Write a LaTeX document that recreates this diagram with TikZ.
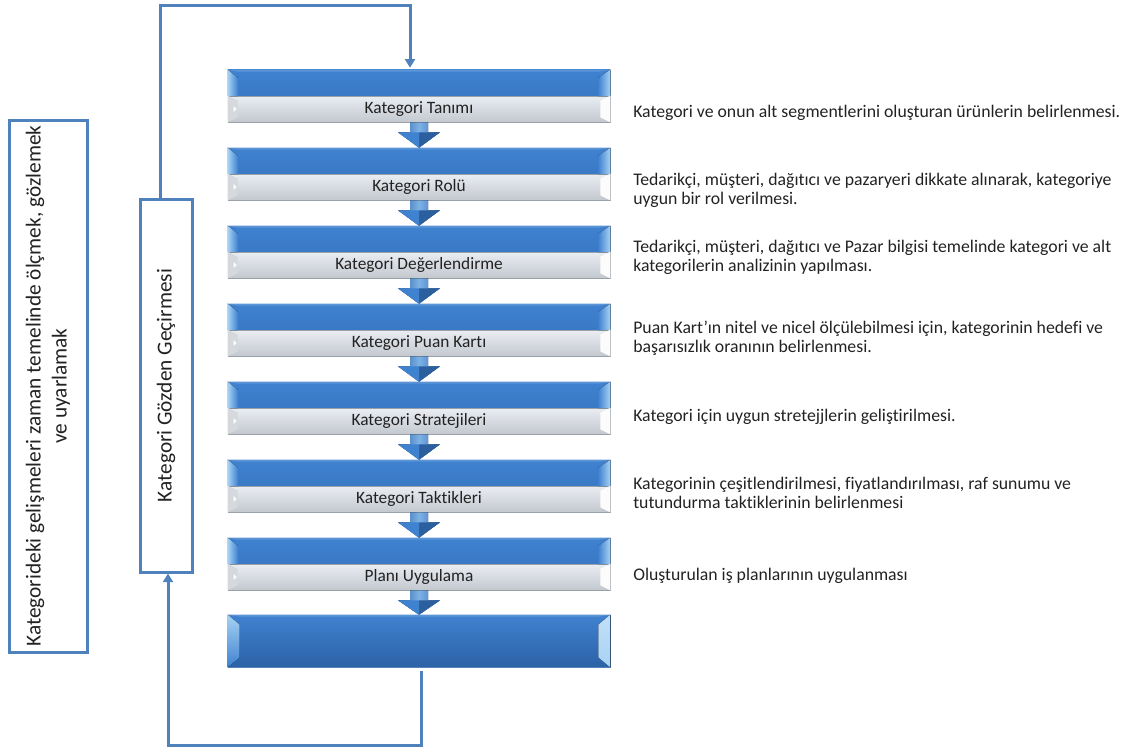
\documentclass[tikz,border=0pt]{standalone}
\usepackage{fontspec}
\setmainfont{Carlito}[Ligatures=NoCommon]
\usetikzlibrary{calc,arrows.meta,shadows}
\definecolor{frameblue}{HTML}{4F81BD}
\definecolor{boxtop}{HTML}{3F82D0}
\definecolor{boxbot}{HTML}{3370BA}
\definecolor{boxdark}{HTML}{2C62A6}
\definecolor{bevlight}{HTML}{A8D2F4}
\definecolor{bandtop}{HTML}{EAEEF3}
\definecolor{bandbot}{HTML}{C3C8CF}
\definecolor{bandline}{HTML}{9AA1A9}
\definecolor{txt}{HTML}{222222}

\tikzset{
  bluebox/.style={draw=boxdark!80, line width=0.4pt, top color=boxtop, bottom color=boxbot,
    minimum width=286.5pt, minimum height=39pt, inner sep=0pt,
    drop shadow={shadow xshift=0.8pt, shadow yshift=-0.8pt, opacity=0.35}},
  lastbox/.style={bluebox, top color=boxtop, bottom color=boxdark},
  band/.style={draw=bandline, line width=0.4pt, top color=bandtop, bottom color=bandbot,
    minimum width=286.5pt, minimum height=19.5pt, inner sep=0pt,
    font=\fontsize{13}{15}\selectfont, text=txt},
  desc/.style={anchor=west, align=left, inner sep=0pt, text=txt,
    font=\fontsize{13.3}{14.4}\selectfont},
  frame/.style={draw=frameblue, line width=2.25pt, fill=white, inner sep=0pt},
  vtext/.style={rotate=90, align=center, text=txt, font=\fontsize{16}{19.5}\selectfont},
  fb/.style={draw=frameblue, line width=2.25pt},
  fbtip/.style={-{Triangle[width=7.5pt,length=6.5pt]}},
  flowshade/.style={left color=boxdark, right color=boxbot, middle color=bevlight!60!boxtop},
}

% bevelled edges of a step box (upper blue half and lower grey band)
\newcommand\stepbevels[2]{%
  \fill[left color=bevlight, right color=boxtop] (#1.north west) -- ($(#1.north west)+(10,8)$)
     -- ($(#1.west)+(10,0)$) -- (#1.west) -- cycle;
  \fill[left color=boxtop, right color=bevlight] (#1.north east) -- ($(#1.north east)+(-12,8)$)
     -- ($(#1.east)+(-12,0)$) -- (#1.east) -- cycle;
  \fill[boxtop!85!white] (#1.north west) -- (#1.north east) -- ($(#1.north east)+(-12,2)$)
     -- ($(#1.north west)+(10,2)$) -- cycle;
  \fill[bandbot!70!white] (#2.north west) -- ($(#2.north west)+(10,5)$)
     -- ($(#2.south west)+(10,-5)$) -- (#2.south west) -- cycle;
  \fill[white] ($(#2.west)+(6,-3)$) -- ($(#2.west)+(9,0)$) -- ($(#2.west)+(6,3)$) -- cycle;
  \fill[white!85!bandtop] (#2.north east) -- ($(#2.north east)+(-10,5)$)
     -- ($(#2.south east)+(-10,-5)$) -- (#2.south east) -- cycle;
}

% block arrow from the bottom of one step to the top of the next
\newcommand\flowarrow[2]{%
  \fill[flowshade] ($(#1.south)+(-9,0)$) -- ($(#1.south)+(9,0)$) -- ($(#1.south)+(9,10)$)
     -- ($(#1.south)+(21,10)$) -- (#2.north) -- ($(#1.south)+(-21,10)$)
     -- ($(#1.south)+(-9,10)$) -- cycle;
  \fill[boxbot!85!black] ($(#1.south)+(0,10)$) -- ($(#1.south)+(21,10)$) -- (#2.north) -- cycle;
  \fill[boxtop] ($(#1.south)+(0,10)$) -- ($(#1.south)+(-21,10)$) -- (#2.north) -- cycle;
}

\begin{document}
\begin{tikzpicture}[x=0.75pt,y=-0.75pt]
\useasboundingbox (0,0) rectangle (1131,749);

% step boxes
\node[bluebox] (s1) at (419,96) {};
\node[band] (l1) at (419,109) {Kategori Tanımı};
\stepbevels{s1}{l1}
\node[bluebox] (s2) at (419,174) {};
\node[band] (l2) at (419,187) {Kategori Rolü};
\stepbevels{s2}{l2}
\node[bluebox] (s3) at (419,252) {};
\node[band] (l3) at (419,265) {Kategori Değerlendirme};
\stepbevels{s3}{l3}
\node[bluebox] (s4) at (419,330) {};
\node[band] (l4) at (419,343) {Kategori Puan Kartı};
\stepbevels{s4}{l4}
\node[bluebox] (s5) at (419,408) {};
\node[band] (l5) at (419,421) {Kategori Stratejileri};
\stepbevels{s5}{l5}
\node[bluebox] (s6) at (419,486) {};
\node[band] (l6) at (419,499) {Kategori Taktikleri};
\stepbevels{s6}{l6}
\node[bluebox] (s7) at (419,564) {};
\node[band] (l7) at (419,577) {Planı Uygulama};
\stepbevels{s7}{l7}

% final box
\node[lastbox] (s8) at (419,641) {};
\fill[top color=bevlight, bottom color=boxtop] (s8.north west) -- ($(s8.north west)+(12,10)$)
   -- ($(s8.south west)+(12,-10)$) -- (s8.south west) -- cycle;
\fill[top color=white!30!bevlight, bottom color=bevlight] (s8.north east) -- ($(s8.north east)+(-12,10)$)
   -- ($(s8.south east)+(-12,-10)$) -- (s8.south east) -- cycle;
\fill[boxtop!85!white] (s8.north west) -- (s8.north east) -- ($(s8.north east)+(-12,2)$)
   -- ($(s8.north west)+(12,2)$) -- cycle;

% arrows between steps
\flowarrow{s1}{s2}
\flowarrow{s2}{s3}
\flowarrow{s3}{s4}
\flowarrow{s4}{s5}
\flowarrow{s5}{s6}
\flowarrow{s6}{s7}
\flowarrow{s7}{s8}

% review and monitoring frames
\node[frame, minimum width=39pt, minimum height=279.75pt] (rev) at (166,385.5) {};
\node[vtext] (revt) at (rev.center) {Kategori Gözden Geçirmesi};
\node[frame, minimum width=58.5pt, minimum height=399pt] (obs) at (48,386) {};
\node[vtext] (obst) at (obs.center) {Kategorideki gelişmeleri zaman temelinde ölçmek, gözlemek\\ve uyarlamak};

% feedback loop
\draw[fb, fbtip] ([xshift=1.5pt]s8.south) ++(0,4) -- ++(0,74) -| ([xshift=1.5pt]rev.south);
\draw[fb, fbtip] ([xshift=-4.5pt]rev.north) |- (410,6) -- ($(s1.north)+(-9,-2)$);

% descriptions
\node[desc] (d1) at (633,113) {Kategori ve onun alt segmentlerini oluşturan ürünlerin belirlenmesi.};
\node[desc] (d2) at (633,190) {Tedarikçi, müşteri, dağıtıcı ve pazaryeri dikkate alınarak, kategoriye\\uygun bir rol verilmesi.};
\node[desc] (d3) at (633,257) {Tedarikçi, müşteri, dağıtıcı ve Pazar bilgisi temelinde kategori ve alt\\kategorilerin analizinin yapılması.};
\node[desc] (d4) at (633,338) {Puan Kart’ın nitel ve nicel ölçülebilmesi için, kategorinin hedefi ve\\başarısızlık oranının belirlenmesi.};
\node[desc] (d5) at (633,417) {Kategori için uygun stretejjlerin geliştirilmesi.};
\node[desc] (d6) at (633,493) {Kategorinin çeşitlendirilmesi, fiyatlandırılması, raf sunumu ve\\tutundurma taktiklerinin belirlenmesi};
\node[desc] (d7) at (633,576) {Oluşturulan iş planlarının uygulanması};
\end{tikzpicture}
\end{document}
